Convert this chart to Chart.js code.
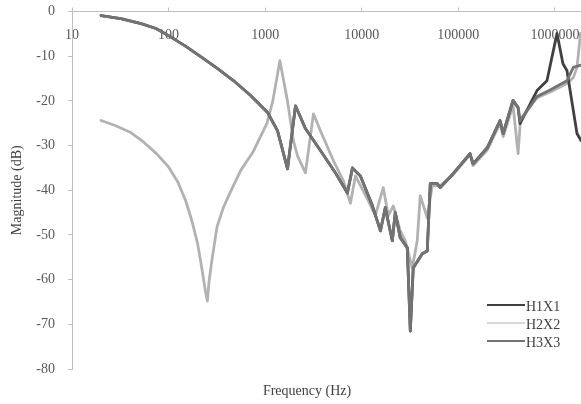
<!DOCTYPE html>
<html>
<head>
<meta charset="utf-8">
<script src="https://cdn.jsdelivr.net/npm/chart.js@4.4.1/dist/chart.umd.min.js"></script>
<style>
  html, body { margin: 0; padding: 0; background: #fff; }
  canvas { display: block; }
</style>
</head>
<body>
<canvas id="myChart" width="581" height="404"></canvas>
<script>
// tick values
const xTicks = [10, 100, 1000, 10000, 100000, 1000000];
const yMin = -80;
const yMax = 0;

// H1X1 (dark)
const h1x1Freq = [20, 32, 52, 74, 100, 151, 215, 322, 472, 707, 1060, 1343, 1703, 2060, 2610, 3730, 5330, 7100, 8000, 9680,
  12900, 15600, 17500, 20700, 22200, 25000, 29600, 31800, 34100, 42300, 47600, 51200, 60400, 64900, 88300,
  132000, 142000, 199000, 270000, 291000, 368000, 415000, 435000, 652000, 826000, 1050000, 1210000, 1330000, 1690000, 1860000];
const h1x1Mag = [-0.9, -1.6, -2.7, -3.8, -5.4, -7.8, -10.1, -12.8, -15.5, -18.8, -22.6, -26.7, -35.2, -21.1, -26.2, -31.1, -36.1, -40.6, -35.0, -36.8,
  -43.5, -49.1, -43.9, -51.3, -45.0, -50.6, -52.9, -71.5, -57.4, -54.2, -53.6, -38.5, -38.5, -39.4, -36.3,
  -31.8, -34.1, -30.5, -24.4, -27.3, -19.9, -21.5, -25.1, -17.7, -15.5, -4.9, -11.7, -13.2, -27.3, -28.9];

// H2X2 (light)
const h2x2Freq = [20, 28, 40, 55, 75, 100, 125, 150, 175, 200, 225, 240, 252, 262, 281, 317, 370, 432, 560, 745, 1045, 1200, 1420,
  1700, 1960, 2160, 2610, 3160, 3730, 5090, 6460, 7630, 8600, 11700, 13800, 16700, 18800, 21200, 25000, 28200, 33300, 37500,
  40300, 47600, 53600, 64900, 88300, 132000, 142000, 199000, 270000, 291000, 368000, 415000, 440000, 652000, 960000, 1330000,
  1550000, 1690000, 1840000];
const h2x2Mag = [-24.4, -25.5, -27.0, -29.2, -31.8, -34.8, -38.2, -42.3, -47.0, -52.0, -58.5, -62.5, -64.8, -60.5, -55.6, -48.2, -43.8, -40.6, -35.5, -31.5, -25.0, -20.0, -11.0,
  -20.0, -28.9, -32.3, -36.1, -22.9, -26.7, -33.4, -37.9, -42.9, -36.8, -42.4, -45.7, -39.4, -45.7, -43.5, -49.1, -51.3, -57.4, -51.3,
  -41.2, -46.2, -39.0, -39.0, -36.5, -32.0, -34.5, -31.0, -25.0, -28.0, -21.0, -31.8, -24.0, -19.3, -17.7, -16.1,
  -14.8, -12.5, -4.9];

// H3X3 (medium)
const h3x3Freq = [20, 32, 52, 74, 100, 151, 215, 322, 472, 707, 1060, 1343, 1703, 2060, 2610, 3730, 5330, 7100, 8000, 9680,
  12900, 15600, 17500, 20700, 22200, 25000, 29600, 31800, 34100, 42300, 47600, 51200, 60400, 64900, 88300,
  132000, 142000, 199000, 270000, 291000, 368000, 415000, 435000, 652000, 900000, 1330000, 1550000, 1860000];
const h3x3Mag = [-0.9, -1.6, -2.7, -3.8, -5.4, -7.8, -10.1, -12.8, -15.5, -18.8, -22.6, -26.7, -35.2, -21.1, -26.2, -31.1, -36.1, -40.6, -35.0, -36.8,
  -43.5, -49.1, -43.9, -51.3, -45.0, -50.6, -52.9, -71.5, -57.4, -54.2, -53.6, -38.5, -38.5, -39.4, -36.3,
  -31.8, -34.1, -30.5, -24.4, -27.3, -19.9, -21.5, -24.5, -19.0, -17.5, -15.5, -12.5, -12.0];

const serif = '"Liberation Serif", "Times New Roman", serif';

function toPoints(freq, mag) {
  return freq.map((f, i) => ({ x: f, y: mag[i] }));
}

// legend in the lower right corner, like the original
const cornerLegend = {
  id: 'cornerLegend',
  afterDraw(chart) {
    const ctx = chart.ctx;
    ctx.save();
    ctx.font = '14px ' + serif;
    ctx.textBaseline = 'middle';
    chart.data.datasets.forEach((ds, i) => {
      const y = 305 + i * 18;
      ctx.strokeStyle = ds.borderColor;
      ctx.lineWidth = i === 1 ? 1.2 : 1.8;
      ctx.beginPath();
      ctx.moveTo(487, y);
      ctx.lineTo(525, y);
      ctx.stroke();
      ctx.fillStyle = '#404040';
      ctx.fillText(ds.label, 526, y + 2);
    });
    ctx.restore();
  }
};

// the x title sits a bit left of the plot centre in the original
const shiftTitle = {
  id: 'shiftTitle',
  afterLayout(chart) {
    chart.scales.xTitle.left = 33;
  }
};

const config = {
  type: 'line',
  data: {
    datasets: [
      { label: 'H1X1', data: toPoints(h1x1Freq, h1x1Mag), borderColor: '#404040', order: 1 },
      { label: 'H2X2', data: toPoints(h2x2Freq, h2x2Mag), borderColor: '#b2b2b2', order: 2 },
      { label: 'H3X3', data: toPoints(h3x3Freq, h3x3Mag), borderColor: '#737373', order: 0 }
    ].map(d => Object.assign(d, {
      xAxisID: 'x', yAxisID: 'y', borderWidth: 2.8, pointRadius: 0, tension: 0, fill: false,
      borderJoinStyle: 'round', borderCapStyle: 'round'
    }))
  },
  options: {
    responsive: false,
    animation: false,
    devicePixelRatio: 1,
    layout: { padding: 0 },
    plugins: {
      legend: { display: false },
      tooltip: { enabled: false }
    },
    scales: {
      x: {
        type: 'logarithmic',
        position: 'top',
        min: 10,
        max: 1860000,
        border: { color: '#bfbfbf', width: 1 },
        grid: { drawOnChartArea: false, tickLength: 4, color: '#bfbfbf' },
        ticks: {
          mirror: true,
          padding: 15,
          autoSkip: false,
          maxRotation: 0,
          minRotation: 0,
          color: '#595959',
          font: { family: serif, size: 14 },
          callback: v => String(v)
        },
        afterBuildTicks: axis => { axis.ticks = xTicks.map(v => ({ value: v })); },
        afterFit: axis => { axis.height = 11.5; axis.paddingLeft = 0; axis.paddingRight = 0; }
      },
      xTitle: {
        type: 'linear',
        position: 'bottom',
        grid: { display: false },
        border: { display: false },
        ticks: { display: false },
        title: {
          display: true,
          text: 'Frequency (Hz)',
          color: '#404040',
          font: { family: serif, size: 14 },
          padding: { top: 0, bottom: 4 }
        },
        afterFit: axis => { axis.height = 35; axis.paddingLeft = 0; axis.paddingRight = 0; }
      },
      y: {
        type: 'linear',
        min: yMin,
        max: yMax,
        border: { color: '#bfbfbf', width: 1 },
        grid: { drawOnChartArea: false, tickLength: 4, color: '#bfbfbf' },
        ticks: {
          stepSize: 10,
          padding: 13,
          color: '#595959',
          font: { family: serif, size: 14 }
        },
        title: {
          display: true,
          text: 'Magnitude (dB)',
          color: '#404040',
          font: { family: serif, size: 14 },
          padding: { top: 9, bottom: 0 }
        },
        afterFit: axis => { axis.width = 72; axis.paddingTop = 0; axis.paddingBottom = 0; }
      }
    }
  },
  plugins: [cornerLegend, shiftTitle]
};

const myChart = new Chart(document.getElementById('myChart'), config);
</script>
</body>
</html>
